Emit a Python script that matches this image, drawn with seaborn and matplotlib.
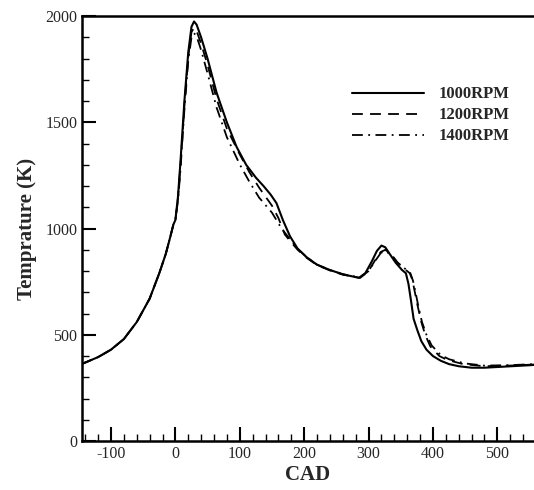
import pandas as pd
import matplotlib
matplotlib.use("Agg")
import matplotlib.pyplot as plt
import seaborn as sns
from matplotlib.ticker import MultipleLocator

sns.set_style("white")
plt.rcParams['font.family'] = ['Liberation Serif', 'DejaVu Serif']
plt.rcParams['axes.unicode_minus'] = False

# 1000 RPM
cad_1000 = [-145, -120, -100, -80, -60, -40, -25, -15, -8, -3, 0, 4, 8, 14, 20, 25, 29, 33, 40, 50,
            64, 80, 95, 110, 125, 137, 148, 157, 167, 178, 190, 204, 220, 240, 260, 285, 295, 305,
            313, 320, 326, 333, 342, 352, 358, 362, 366, 370, 376, 382, 390, 400, 412, 425, 440,
            460, 480, 510, 540, 557]
temp_1000 = [363, 395, 430, 480, 560, 670, 790, 880, 960, 1020, 1040, 1150, 1320, 1600, 1830, 1950,
             1975, 1960, 1900, 1800, 1640, 1500, 1385, 1300, 1240, 1200, 1160, 1120, 1040, 964, 905,
             865, 830, 805, 785, 768, 790, 845, 895, 920, 912, 880, 840, 805, 790, 740, 660, 575,
             520, 470, 430, 400, 378, 362, 352, 345, 345, 350, 355, 358]

# 1200 RPM
cad_1200 = [-145, -120, -100, -80, -60, -40, -25, -15, -8, -3, 0, 4, 8, 14, 20, 25, 29, 33, 40, 50,
            64, 80, 100, 115, 130, 150, 160, 170, 180, 190, 204, 220, 240, 260, 287, 300, 312, 319,
            326, 335, 345, 358, 364, 368, 372, 376, 382, 388, 396, 410, 422, 447, 480, 520, 557]
temp_1200 = [363, 395, 430, 480, 560, 670, 790, 880, 960, 1020, 1040, 1140, 1300, 1580, 1810, 1925,
             1945, 1930, 1870, 1770, 1610, 1470, 1349, 1265, 1193, 1108, 1050, 972, 935, 900, 862,
             828, 803, 783, 768, 800, 860, 890, 900, 880, 840, 805, 790, 760, 700, 640, 560, 500,
             445, 400, 382, 362, 352, 355, 360]

# 1400 RPM
cad_1400 = [-145, -120, -100, -80, -60, -40, -25, -15, -8, -3, 0, 4, 8, 14, 20, 25, 29, 33, 40, 50,
            64, 80, 100, 115, 130, 150, 165, 178, 190, 204, 220, 240, 260, 287, 300, 312, 319, 325,
            335, 345, 358, 365, 369, 373, 377, 383, 390, 398, 412, 425, 450, 480, 520, 557]
temp_1400 = [363, 395, 430, 480, 560, 670, 790, 880, 960, 1020, 1040, 1130, 1280, 1560, 1790, 1900,
             1920, 1905, 1840, 1730, 1570, 1430, 1302, 1220, 1146, 1075, 1000, 950, 905, 865, 830,
             805, 785, 770, 800, 855, 885, 895, 878, 840, 808, 790, 755, 700, 640, 560, 500, 450,
             405, 385, 365, 355, 357, 362]

series = [("1000RPM", cad_1000, temp_1000, "-"),
          ("1200RPM", cad_1200, temp_1200, (0, (6, 4))),
          ("1400RPM", cad_1400, temp_1400, (0, (6, 3, 1, 3)))]

fig = plt.figure(figsize=(5.34, 4.9), dpi=100)
ax = fig.add_axes([0.1536, 0.1, 0.8464, 0.867])

for name, x, y, ls in series:
    df = pd.DataFrame({"CAD": x, "T": y})
    sns.lineplot(data=df, x="CAD", y="T", ax=ax, color="black", linestyle=ls,
                 linewidth=1.5 if name == "1000RPM" else 1.3, label=name, sort=False)

ax.set_xlim(-145, 557)
ax.set_ylim(0, 2000)
ax.xaxis.set_major_locator(MultipleLocator(100))
ax.xaxis.set_minor_locator(MultipleLocator(20))
ax.yaxis.set_major_locator(MultipleLocator(500))
ax.yaxis.set_minor_locator(MultipleLocator(100))
ax.tick_params(which="major", direction="in", length=10, width=1.5, labelsize=11.5, color="black",
               top=False, right=False)
ax.tick_params(which="minor", direction="in", length=5, width=1, color="black",
               top=False, right=False)
ax.tick_params(axis="both", which="both", bottom=True, left=True)

for side in ["left", "bottom", "top"]:
    ax.spines[side].set_linewidth(1.8)
    ax.spines[side].set_color("black")
ax.spines["right"].set_visible(False)

ax.set_xlabel("CAD", fontsize=15, fontweight="bold", labelpad=2)
ax.set_ylabel("Temprature (K)", fontsize=15, fontweight="bold", labelpad=6)

leg = ax.legend(loc="upper left", bbox_to_anchor=(0.565, 0.87), frameon=False, fontsize=12,
                handlelength=4.3, handletextpad=0.9, labelspacing=0.3)
for t in leg.get_texts():
    t.set_fontweight("bold")

fig.savefig("out.png", dpi=100)
